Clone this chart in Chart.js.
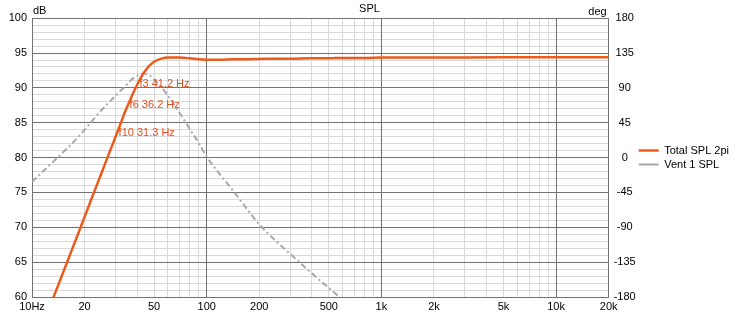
<!DOCTYPE html>
<html>
<head>
<meta charset="utf-8">
<style>
  html, body { margin: 0; padding: 0; background: #fff; }
</style>
</head>
<body>
<canvas id="grafico" width="739" height="315"></canvas>

<script src="https://cdn.jsdelivr.net/npm/chart.js"></script>

<script>
  // frequencias (Hz) e niveis
  const freqs = [10, 12, 14, 16, 18, 20, 22, 25, 28, 31.3, 34, 36.2, 38, 41.2, 43.5, 47, 50, 55, 60, 70, 80, 90,
    100, 120, 140, 160, 200, 250, 300, 400, 500, 600, 800, 1000, 2000, 5000, 10000, 20000];
  const totalSpl = [52, 57.2, 61.45, 65.2, 68.5, 71.5, 74.2, 77.8, 81.0, 84.1, 86.5, 88.1, 89.3, 91.1, 92.1, 93.2, 93.75, 94.2, 94.35, 94.35, 94.25, 94.1,
    94.05, 94.05, 94.1, 94.1, 94.15, 94.2, 94.2, 94.25, 94.25, 94.3, 94.3, 94.35, 94.35, 94.4, 94.4, 94.4];
  const ventSpl = [76.5, 78.4, 80.0, 81.4, 82.7, 84.0, 85.2, 86.8, 88.1, 89.3, 90.2, 90.9, 91.4, 91.9, 92.05, 91.8, 91.2, 90.1, 88.9, 86.4, 84.1, 82.1,
    80.1, 77.5, 75.4, 73.5, 70.4, 68.0, 66.2, 63.4, 61.3, 59.6, 57.0, 55.0, null, null, null, null];

  const xTickValues = [10, 20, 50, 100, 200, 500, 1000, 2000, 5000, 10000, 20000];
  const xTickLabels = ["10Hz", "20", "50", "100", "200", "500", "1k", "2k", "5k", "10k", "20k"];

  const marcadores = ["f3 41.2 Hz", "f6 36.2 Hz", "f10 31.3 Hz"];
  const marcadorFreq = [41.2, 36.2, 31.3];
  const marcadorNivel = [91.2, 88.2, 84.2];

  const escuro = "#727272";
  const claro = "#d9d9d9";

  Chart.defaults.font.family = "Arial, 'Liberation Sans', sans-serif";
  Chart.defaults.font.size = 11;
  Chart.defaults.color = "#000";

  const ehDecada = (v) => {
    const m = v / Math.pow(10, Math.floor(Math.log10(v) + 1e-9));
    return Math.abs(m - 1) < 1e-6 || v === 20000;
  };
  const alinhar = (p) => Math.round(p - 0.5) + 0.5;

  // redesenha as linhas principais da grade por cima das secundarias
  const gradeForte = {
    id: "gradeForte",
    beforeDatasetsDraw(chart) {
      const { ctx, chartArea: a, scales } = chart;
      ctx.save();
      ctx.strokeStyle = escuro;
      ctx.lineWidth = 1;
      ctx.beginPath();
      scales.x.ticks.forEach(t => {
        if (!ehDecada(t.value)) return;
        const px = alinhar(scales.x.getPixelForValue(t.value));
        ctx.moveTo(px, a.top);
        ctx.lineTo(px, a.bottom);
      });
      scales.y.ticks.forEach(t => {
        if (t.value % 5 !== 0) return;
        const py = alinhar(scales.y.getPixelForValue(t.value));
        ctx.moveTo(a.left, py);
        ctx.lineTo(a.right, py);
      });
      ctx.stroke();
      ctx.restore();
    }
  };

  const textos = {
    id: "textos",
    afterDatasetsDraw(chart) {
      const { ctx, chartArea, scales } = chart;
      ctx.save();
      ctx.font = "11px Arial, 'Liberation Sans', sans-serif";
      ctx.fillStyle = "#000";
      ctx.textBaseline = "middle";
      ctx.textAlign = "left";
      ctx.fillText("dB", chartArea.left + 1, 11);
      ctx.textAlign = "right";
      ctx.fillText("deg", chartArea.right - 2, 12);
      ctx.fillStyle = "#e0501e";
      ctx.textAlign = "left";
      ctx.textBaseline = "top";
      marcadores.forEach((t, i) => {
        ctx.fillText(t, scales.x.getPixelForValue(marcadorFreq[i]), scales.y.getPixelForValue(marcadorNivel[i]) - 1);
      });
      ctx.restore();
    }
  };

  const ctx = document.getElementById("grafico").getContext("2d");

  new Chart(ctx, {
    type: "line",
    data: {
      datasets: [{
        label: "Total SPL 2pi",
        data: freqs.map((f, i) => ({ x: f, y: totalSpl[i] })),
        borderColor: "#ec5a1c",
        backgroundColor: "#ec5a1c",
        borderWidth: 2.5,
        pointRadius: 0,
        cubicInterpolationMode: "monotone",
        yAxisID: "y",
      }, {
        label: "Vent 1 SPL",
        data: freqs.map((f, i) => ({ x: f, y: ventSpl[i] })),
        borderColor: "#a8a8a8",
        backgroundColor: "#a8a8a8",
        borderWidth: 2,
        borderDash: [6, 3, 2, 3],
        pointRadius: 0,
        cubicInterpolationMode: "monotone",
        spanGaps: false,
        yAxisID: "y",
      }]
    },
    options: {
      responsive: false,
      animation: false,
      layout: { padding: { right: 0 } },
      plugins: {
        title: { display: true, text: "SPL", font: { size: 11, weight: "normal" }, padding: { top: 2, bottom: 3 } },
        legend: {
          position: "right",
          fullSize: false,
          labels: { usePointStyle: true, pointStyle: "line", pointStyleWidth: 20, boxWidth: 20, padding: 3, font: { size: 11 } }
        },
        tooltip: { enabled: false },
      },
      scales: {
        x: {
          type: "logarithmic",
          min: 10,
          max: 20000,
          afterBuildTicks(scale) {
            const ticks = [];
            for (let d = 10; d <= 10000; d *= 10) {
              for (let m = 1; m <= 9; m++) {
                if (m * d <= 20000) ticks.push({ value: m * d });
              }
            }
            scale.ticks = ticks;
          },
          afterFit(scale) { scale.height = 18; },
          ticks: {
            autoSkip: false,
            maxRotation: 0,
            padding: 3,
            callback: (v) => {
              const i = xTickValues.indexOf(v);
              return i >= 0 ? xTickLabels[i] : "";
            }
          },
          grid: {
            drawTicks: false,
            color: (c) => (c.tick && ehDecada(c.tick.value) ? escuro : claro)
          },
          border: { color: escuro },
        },
        y: {
          position: "left",
          min: 60,
          max: 100,
          afterFit(scale) { scale.width = 32; },
          ticks: {
            stepSize: 1,
            autoSkip: false,
            padding: 5,
            callback: (v) => (v % 5 === 0 ? v : "")
          },
          grid: {
            drawTicks: false,
            color: (c) => (c.tick && c.tick.value % 5 === 0 ? escuro : claro)
          },
          border: { color: escuro },
        },
        y2: {
          position: "right",
          min: -180,
          max: 180,
          afterFit(scale) { scale.width = 27; },
          ticks: { stepSize: 45, padding: 5, crossAlign: "center", autoSkip: false },
          grid: { display: false, drawTicks: false },
          border: { color: escuro },
        }
      }
    },
    plugins: [gradeForte, textos],
  });
</script>
</body>
</html>
